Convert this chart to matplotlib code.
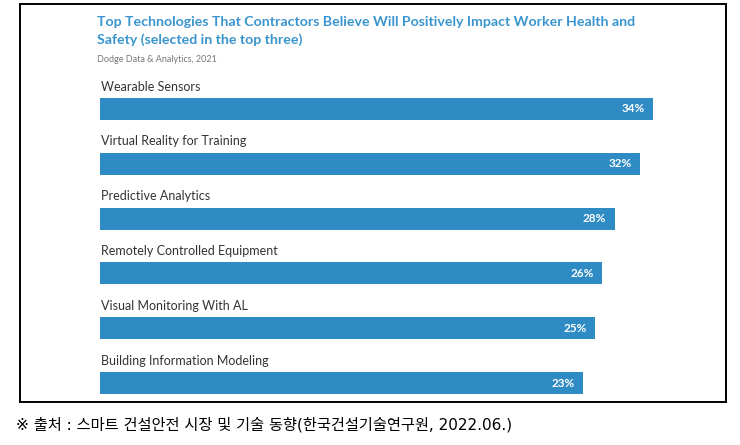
import matplotlib
matplotlib.use('Agg')
import matplotlib.pyplot as plt
from matplotlib.patches import Rectangle
import numpy as np

# data
categories = ['Wearable Sensors', 'Virtual Reality for Training', 'Predictive Analytics',
              'Remotely Controlled Equipment', 'Visual Monitoring With AL',
              'Building Information Modeling']
values = [34, 32, 28, 26, 25, 23]
value_labels = ['34%', '32%', '28%', '26%', '25%', '23%']

title_1 = 'Top Technologies That Contractors Believe Will Positively Impact Worker Health and'
title_2 = 'Safety (selected in the top three)'
subtitle = 'Dodge Data & Analytics, 2021'
caption = '※ 출처 : 스마트 건설안전 시장 및 기술 동향(한국건설기술연구원, 2022.06.)'

W, H = 740, 445
bar_color = '#2f8bc4'
title_color = '#3a95cf'
label_color = '#333333'

fig = plt.figure(figsize=(W / 100, H / 100), dpi=100)

def px(x, y):
    # pixel position -> figure fraction
    return x / W, 1 - y / H

# outer frame
x0, y0 = px(20, 402)
x1, y1 = px(726, 4.5)
fig.add_artist(Rectangle((x0, y0), x1 - x0, y1 - y0, transform=fig.transFigure,
                         fill=False, edgecolor='black', linewidth=1.4))

# titles
fig.text(*px(97, 22), title_1, color=title_color, fontsize=10.2, fontweight='bold',
         family='Lato', va='center', ha='left')
fig.text(*px(97, 40), title_2, color=title_color, fontsize=10.2, fontweight='bold',
         family='Lato', va='center', ha='left')
fig.text(*px(97, 59), subtitle, color='#777777', fontsize=6.5, family='Lato',
         va='center', ha='left')

# chart axes: bars start at the axes' left edge (truncated baseline as in the source)
base = -52.7
ax_left, ax_right = 100, 700
ax_top, ax_bot = 60, 400
ax = fig.add_axes([ax_left / W, 1 - ax_bot / H, (ax_right - ax_left) / W, (ax_bot - ax_top) / H])
ax.set_xlim(base, 41.4)
ax.set_ylim(5.31, -0.894)
ax.axis('off')

y = np.arange(len(categories))
vals = np.array(values, dtype=float)
ax.barh(y, vals - base, left=base, height=0.40, color=bar_color)

for i, (cat, v, lab) in enumerate(zip(categories, vals, value_labels)):
    ax.text(base + 0.15, i - 0.41, cat, color=label_color, fontsize=9, family='Lato',
            va='center', ha='left')
    ax.annotate(lab, (v, i), xytext=(-6, 0), textcoords='offset points',
                color='white', fontsize=8.5, family='Lato', fontweight='bold',
                va='center', ha='right')

# source caption
fig.text(*px(16, 425), caption, fontsize=11, family=['DejaVu Sans', 'Noto Sans CJK KR'],
         va='center', ha='left', color='black')

fig.savefig('out.png', dpi=100)
